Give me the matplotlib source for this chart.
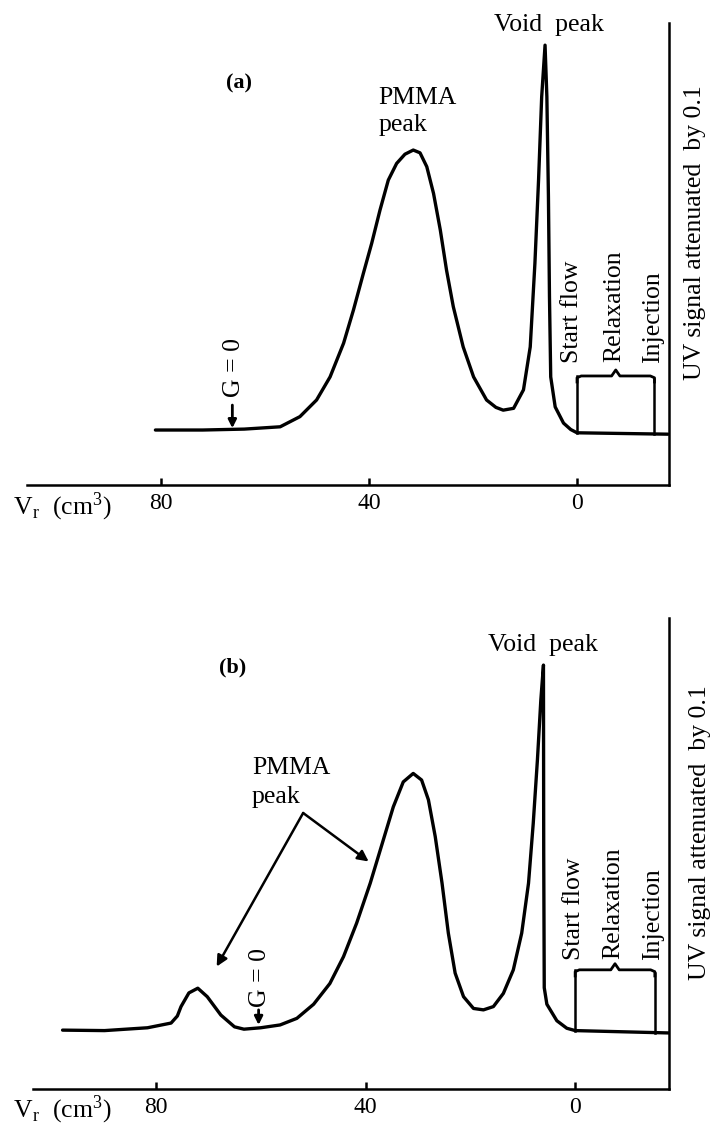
import numpy as np
import matplotlib
matplotlib.use('Agg')
import matplotlib.pyplot as plt

plt.rcParams['font.family'] = ['Liberation Serif', 'DejaVu Serif']
plt.rcParams['mathtext.fontset'] = 'stix'

# ── 데이터 (retention volume Vr in cm3, UV signal in arbitrary units) ──
VR_A = [81.1, 72, 64, 57.1, 53.3, 50.1, 47.5, 44.9, 43.0, 41.1, 39.5, 37.9, 36.3, 34.7,
        33.1, 31.5, 30.2, 28.9, 27.6, 26.3, 25.1, 23.8, 21.9, 19.9, 17.4, 15.6, 14.2,
        12.2, 10.3, 9.0, 8.1, 7.4, 6.8, 6.15, 5.8, 5.5, 5.3, 5.06, 4.2, 2.6, 1.2, 0, -17.5]
UV_A = [11.9, 11.9, 12.1, 12.6, 14.8, 18.4, 23.4, 30.7, 37.9, 45.8, 52.3, 59.5, 66.0, 69.6,
        71.6, 72.5, 71.9, 68.9, 63.1, 55.2, 46.5, 38.6, 29.9, 23.4, 18.4, 16.8, 16.2,
        16.6, 20.6, 29.9, 48.0, 66.0, 84.0, 95.2, 84.0, 62.4, 40.8, 23.4, 16.9, 13.4, 12.0, 11.3, 11.0]

VR_B = [97.8, 89.8, 81.6, 77.1, 75.9, 75.2, 73.7, 72.0, 70.2, 67.6, 65.0, 63.2, 60.0,
        56.3, 53.1, 49.9, 46.8, 44.2, 41.7, 39.1, 36.6, 34.7, 32.8, 30.9, 29.3, 28.0,
        26.7, 25.4, 24.2, 22.9, 21.3, 19.4, 17.5, 15.6, 13.7, 11.8, 10.2, 8.9, 8.0,
        7.2, 6.55, 6.05, 6.0, 5.9, 5.4, 3.5, 1.6, 0, -17.9]
UV_B = [12.5, 12.4, 13.0, 14.0, 15.5, 17.5, 20.4, 21.4, 19.6, 15.7, 13.2, 12.7, 13.0,
        13.6, 15.0, 18.0, 22.4, 28.1, 35.2, 43.7, 52.9, 59.9, 65.2, 67.0, 65.6, 61.4,
        53.6, 43.7, 33.1, 24.6, 19.6, 17.1, 16.8, 17.5, 20.3, 25.3, 33.1, 43.7, 56.4,
        69.9, 82.6, 90.0, 50.0, 21.5, 18.0, 14.5, 12.9, 12.4, 11.9]

TICKS = [80, 40, 0]
START_FLOW = 0
INJECTION = {'a': -14.9, 'b': -15.2}
BRACE_LEVEL = {'a': 23.6, 'b': 25.3}
G_ZERO = {'a': 66.3, 'b': 60.4}

FS = 18.5


def brace(ax, x0, x1, y, h=1.3, d=0.8):
    s = np.sign(x1 - x0)
    xm = (x0 + x1) / 2
    xs = [x0, x0, x0 + s*d, xm - s*d, xm, xm + s*d, x1 - s*d, x1, x1]
    ys = [y - h, y - 0.3*h, y, y, y + h, y, y, y - 0.3*h, y - h]
    ax.plot(xs, ys, color='k', lw=2.0, solid_joinstyle='round', clip_on=False)


def panel(rect, xlim, vr, uv, key, label, label_pos, g_text_y, g_arrow,
          txt_pos, uv_txt_pos, void_pos):
    ax = fig.add_axes(rect)
    ax.plot(vr, uv, color='k', lw=2.4, solid_joinstyle='round', solid_capstyle='round')
    ax.set_xlim(*xlim)
    ax.set_ylim(0, 100)
    for sp in ['left', 'top']:
        ax.spines[sp].set_visible(False)
    for sp in ['bottom', 'right']:
        ax.spines[sp].set_linewidth(1.8)
    ax.set_yticks([])
    ax.set_xticks(TICKS)
    ax.set_xticklabels([str(t) for t in TICKS])
    ax.tick_params(axis='x', direction='in', length=5, width=1.8, labelsize=17, pad=6)

    # start flow / injection markers with brace
    inj = INJECTION[key]
    lvl = BRACE_LEVEL[key]
    base0 = np.interp(-START_FLOW, [-v for v in vr], uv)
    base1 = np.interp(-inj, [-v for v in vr], uv)
    ax.plot([START_FLOW, START_FLOW], [base0, lvl], color='k', lw=1.8)
    ax.plot([inj, inj], [base1, lvl - 0.6], color='k', lw=1.8)
    brace(ax, START_FLOW, inj, lvl)

    ax.text(START_FLOW + 1.0 if key == 'a' else START_FLOW + 0.3, txt_pos, 'Start flow',
            rotation=90, ha='center', va='bottom', fontsize=FS)
    ax.text((START_FLOW + inj) / 2 + 0.3, txt_pos + 0.2, 'Relaxation',
            rotation=90, ha='center', va='bottom', fontsize=FS)
    ax.text(inj + 0.3, txt_pos, 'Injection',
            rotation=90, ha='center', va='bottom', fontsize=FS)
    ax.text(uv_txt_pos[0], uv_txt_pos[1], 'UV signal attenuated  by 0.1',
            rotation=90, ha='center', va='bottom', fontsize=FS, clip_on=False)
    ax.text(void_pos[0], void_pos[1], 'Void  peak', ha='center', va='center',
            fontsize=FS, clip_on=False)
    ax.text(label_pos[0], label_pos[1], label, ha='center', va='center',
            fontsize=16, fontweight='bold')

    gx = G_ZERO[key]
    ax.text(gx - 0.3, g_text_y, 'G = 0', rotation=90, ha='center', va='bottom', fontsize=FS)
    ax.annotate('', xy=(gx, g_arrow[1]), xytext=(gx, g_arrow[0]),
                arrowprops=dict(arrowstyle='-|>', color='k', lw=2.0,
                                mutation_scale=12, shrinkA=0, shrinkB=0))
    return ax


fig = plt.figure(figsize=(7.12, 11.25), dpi=100)
W, H = 712.0, 1125.0

ax_a = panel([27/W, 1 - 485/H, (669.3 - 27)/W, (485 - 23)/H], (105.8, -17.75),
             VR_A, UV_A, 'a', '(a)', (65.1, 86.9), 19.1, (17.3, 12.3),
             26.4, (-22.7, 22.7), (5.4, 99.6))
ax_a.text(38.2, 83.7, 'PMMA', ha='left', va='center', fontsize=FS)
ax_a.text(38.2, 77.9, 'peak', ha='left', va='center', fontsize=FS)

ax_b = panel([32.7/W, 1 - 1089/H, (669.3 - 32.7)/W, (1089 - 618)/H], (103.5, -17.96),
             VR_B, UV_B, 'b', '(b)', (65.3, 89.4), 17.5, (16.8, 13.6),
             27.4, (-23.9, 23.1), (6.2, 94.3))
ax_b.text(61.7, 68.2, 'PMMA', ha='left', va='center', fontsize=FS)
ax_b.text(61.7, 62.0, 'peak', ha='left', va='center', fontsize=FS)
for tip in [(68.4, 26.0), (39.4, 48.3)]:
    ax_b.annotate('', xy=tip, xytext=(51.9, 58.6),
                  arrowprops=dict(arrowstyle='-|>', color='k', lw=1.8,
                                  mutation_scale=16, shrinkA=0, shrinkB=0))

vr_label = r'V$_\mathregular{r}$  (cm$^\mathregular{3}$)'
fig.text(13/W, 1 - 507/H, vr_label, ha='left', va='center', fontsize=FS)
fig.text(13/W, 1 - 1110/H, vr_label, ha='left', va='center', fontsize=FS)

plt.savefig('out.png', dpi=100)
